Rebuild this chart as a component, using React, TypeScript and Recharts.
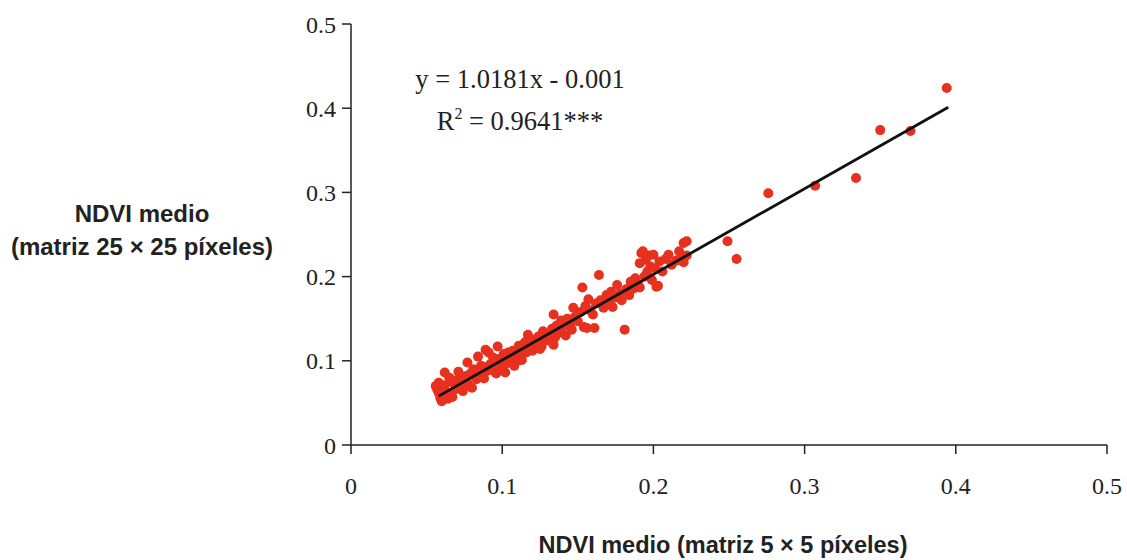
import { Scatter, ScatterChart, XAxis, YAxis } from "recharts";

// NDVI medio, matriz 5 x 5 pixeles (eje x)
const ndvi5 = [
  0.056, 0.057, 0.058, 0.058, 0.059, 0.06, 0.06, 0.061, 0.062, 0.062, 0.063, 0.064, 0.065,
  0.066, 0.067, 0.068, 0.069, 0.07, 0.071, 0.072, 0.073, 0.074, 0.075, 0.076, 0.077, 0.077,
  0.078, 0.079, 0.08, 0.081, 0.082, 0.083, 0.084, 0.085, 0.086, 0.087, 0.088, 0.089, 0.09,
  0.091, 0.092, 0.093, 0.094, 0.095, 0.096, 0.097, 0.098, 0.099, 0.1, 0.101, 0.102, 0.103,
  0.104, 0.105, 0.106, 0.107, 0.108, 0.109, 0.11, 0.111, 0.112, 0.113, 0.113, 0.115, 0.116,
  0.117, 0.118, 0.12, 0.121, 0.122, 0.124, 0.125, 0.126, 0.126, 0.127, 0.128,
  0.13, 0.131, 0.133, 0.134, 0.134, 0.135, 0.136, 0.137, 0.138, 0.139, 0.14, 0.142, 0.143,
  0.145, 0.146, 0.147, 0.148, 0.15, 0.152, 0.153, 0.154, 0.155, 0.156, 0.157, 0.158, 0.16,
  0.161, 0.162, 0.164, 0.165, 0.167, 0.169, 0.17, 0.172, 0.173, 0.174, 0.176, 0.178, 0.179,
  0.181, 0.182, 0.184, 0.185, 0.187, 0.188, 0.19, 0.191, 0.191, 0.192, 0.193, 0.194, 0.195,
  0.196, 0.197, 0.198, 0.199, 0.2, 0.201, 0.202, 0.203, 0.204, 0.206, 0.208, 0.21, 0.212,
  0.215, 0.217, 0.219, 0.22, 0.22, 0.222, 0.222,
  0.249, 0.255, 0.276, 0.307, 0.334, 0.35, 0.37, 0.394,
];

// NDVI medio, matriz 25 x 25 pixeles (eje y)
const ndvi25 = [
  0.07, 0.066, 0.062, 0.074, 0.056, 0.052, 0.068, 0.058, 0.071, 0.086, 0.063, 0.055, 0.08,
  0.06, 0.057, 0.073, 0.066, 0.077, 0.087, 0.07, 0.08, 0.064, 0.074, 0.082, 0.098, 0.074,
  0.07, 0.085, 0.068, 0.09, 0.086, 0.078, 0.105, 0.082, 0.094, 0.093, 0.079, 0.113, 0.088,
  0.11, 0.096, 0.089, 0.104, 0.098, 0.085, 0.117, 0.102, 0.092, 0.101, 0.108, 0.086, 0.097,
  0.11, 0.104, 0.098, 0.112, 0.094, 0.106, 0.1, 0.118, 0.108, 0.113, 0.101, 0.122, 0.11,
  0.131, 0.117, 0.112, 0.125, 0.12, 0.129, 0.114, 0.117, 0.121, 0.135, 0.126,
  0.13, 0.124, 0.138, 0.119, 0.155, 0.128, 0.142, 0.133, 0.135, 0.148, 0.14, 0.13, 0.15,
  0.143, 0.137, 0.163, 0.152, 0.147, 0.158, 0.187, 0.14, 0.165, 0.139, 0.173, 0.16, 0.155,
  0.139, 0.168, 0.202, 0.172, 0.163, 0.178, 0.17, 0.182, 0.164, 0.175, 0.19, 0.18, 0.172,
  0.137, 0.185, 0.178, 0.194, 0.186, 0.198, 0.19, 0.187, 0.216, 0.228, 0.23, 0.2, 0.22,
  0.206, 0.225, 0.212, 0.196, 0.226, 0.21, 0.188, 0.189, 0.218, 0.206, 0.221, 0.226, 0.214,
  0.219, 0.23, 0.224, 0.217, 0.24, 0.242, 0.225,
  0.242, 0.221, 0.299, 0.308, 0.317, 0.374, 0.373, 0.424,
];

const axisTicks = [0, 0.1, 0.2, 0.3, 0.4, 0.5];

// y = 1.0181x - 0.001
const slope = 1.0181;
const intercept = -0.001;
const fitRange = [0.058, 0.395];

const points = ndvi5.map((x, i) => ({ x, y: ndvi25[i] }));
const fitLine = fitRange.map((x) => ({ x, y: slope * x + intercept }));

const tickStyle = { fontFamily: "Liberation Serif", fontSize: 24, fill: "#222" };
const titleFont = "Liberation Sans";

const Dot = (props: any) => (
  <circle cx={props.cx} cy={props.cy} r={5} fill="#e8301f" />
);

const NoDot = () => <g />;

const YTitle = () => (
  <g>
    <text x={142} y={222} textAnchor="middle" fontFamily={titleFont} fontWeight="bold" fontSize={24} fill="#222">
      NDVI medio
    </text>
    <text x={142} y={255} textAnchor="middle" fontFamily={titleFont} fontWeight="bold" fontSize={24} fill="#222">
      (matriz 25 × 25 píxeles)
    </text>
  </g>
);

const XTitle = () => (
  <text x={723} y={553} textAnchor="middle" fontFamily={titleFont} fontWeight="bold" fontSize={23.5} fill="#222">
    NDVI medio (matriz 5 × 5 píxeles)
  </text>
);

const fmt = (v: number) => (v === 0 ? "0" : String(v));

export default function App() {
  return (
    <div style={{ position: "absolute", left: 0, top: 0 }}>
      <ScatterChart
        width={1127}
        height={560}
        margin={{ top: 24, right: 20, left: 0, bottom: 0 }}
      >
        <XAxis
          type="number"
          dataKey="x"
          domain={[0, 0.5]}
          ticks={axisTicks}
          tickFormatter={fmt}
          height={115}
          tickSize={9}
          tickMargin={23}
          tick={tickStyle}
          axisLine={{ stroke: "#222", strokeWidth: 1.5 }}
          tickLine={{ stroke: "#222", strokeWidth: 1.5 }}
          label={{ content: () => <XTitle /> }}
        />
        <YAxis
          type="number"
          dataKey="y"
          domain={[0, 0.5]}
          ticks={axisTicks}
          tickFormatter={fmt}
          width={351}
          tickSize={9}
          tickMargin={6}
          tick={tickStyle}
          axisLine={{ stroke: "#222", strokeWidth: 1.5 }}
          tickLine={{ stroke: "#222", strokeWidth: 1.5 }}
          label={{ content: () => <YTitle /> }}
        />
        <Scatter data={points} shape={Dot} isAnimationActive={false} />
        <Scatter
          data={fitLine}
          shape={NoDot}
          line={{ stroke: "#111", strokeWidth: 2.8 }}
          isAnimationActive={false}
        />
        <text x={520} y={88} textAnchor="middle" fontFamily="Liberation Serif" fontSize={26.5} fill="#222">
          y = 1.0181x - 0.001
        </text>
        <text x={520} y={130} textAnchor="middle" fontFamily="Liberation Serif" fontSize={26.5} fill="#222">
          R<tspan dy={-11} fontSize={16}>2</tspan>
          <tspan dy={11}> = 0.9641***</tspan>
        </text>
      </ScatterChart>
    </div>
  );
}
